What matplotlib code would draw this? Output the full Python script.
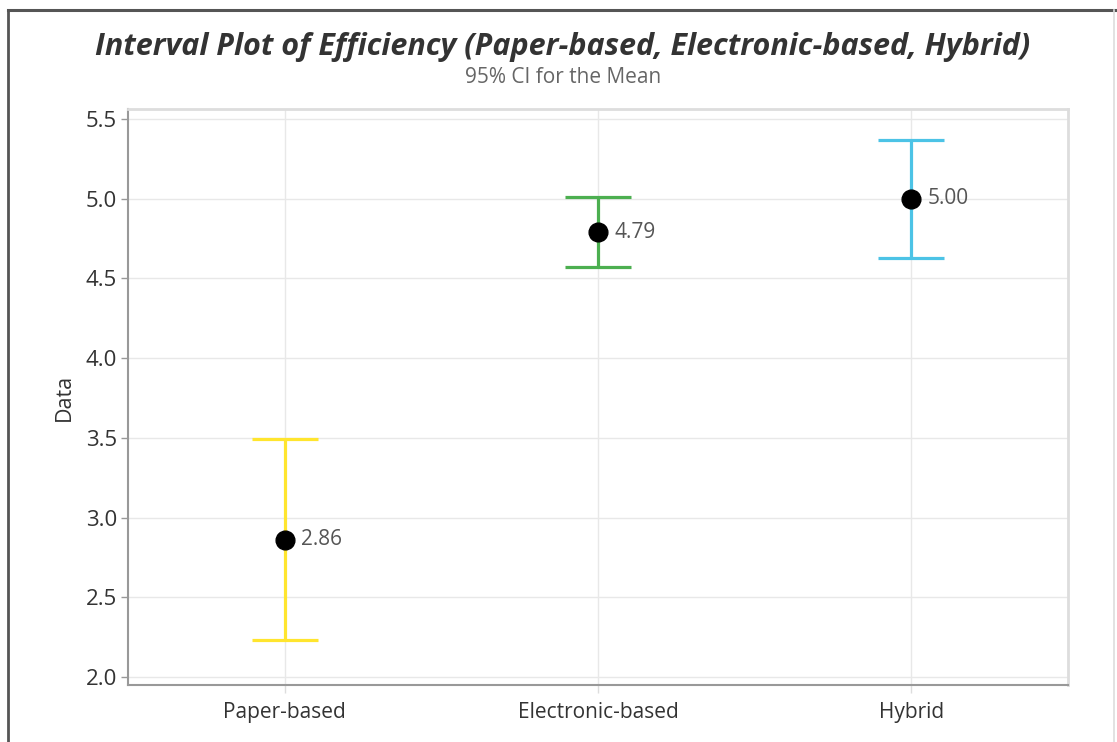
import matplotlib.pyplot as plt
from matplotlib.lines import Line2D

plt.rcParams['font.family'] = ['Open Sans', 'DejaVu Sans']

groups = ["Paper-based", "Electronic-based", "Hybrid"]
means = [2.86, 4.79, 5.00]
ci_low = [2.23, 4.57, 4.63]
ci_high = [3.49, 5.01, 5.37]
colors = ["#FFE52E", "#4CAF50", "#4CC3E6"]
y_ticks = [2.0, 2.5, 3.0, 3.5, 4.0, 4.5, 5.0, 5.5]

fig = plt.figure(figsize=(11.17, 7.42), dpi=100)
ax = fig.add_axes([0.1146, 0.0768, 0.8415, 0.7763])

# outer frame: dark top/left edges, faint right edge
fig.add_artist(Line2D([0.007, 0.998], [0.987, 0.987], transform=fig.transFigure,
                      color="#555555", linewidth=2.2))
fig.add_artist(Line2D([0.007, 0.007], [0.0, 0.987], transform=fig.transFigure,
                      color="#555555", linewidth=2.0))
fig.add_artist(Line2D([0.997, 0.997], [0.0, 0.987], transform=fig.transFigure,
                      color="#dddddd", linewidth=1.2))

for i, g in enumerate(groups):
    err = [[means[i] - ci_low[i]], [ci_high[i] - means[i]]]
    ax.errorbar(i, means[i], yerr=err, fmt="none", ecolor=colors[i],
                elinewidth=2.3, capsize=24, capthick=2.3, zorder=3)
    ax.plot(i, means[i], "o", color="black", markersize=13.5, zorder=4)
    ax.annotate(f"{means[i]:.2f}", (i, means[i]), xytext=(12, 0),
                textcoords="offset points", ha="left", va="center",
                fontsize=15, color="#555555")

ax.set_xlim(-0.5, 2.5)
ax.set_ylim(1.95, 5.563)
ax.set_xticks(range(len(groups)))
ax.set_xticklabels(groups)
ax.set_yticks(y_ticks)
ax.set_yticklabels([f"{t:.1f}" for t in y_ticks])
ax.tick_params(axis="y", labelsize=16, colors="#999999", labelcolor="#333333",
               length=5, width=1, pad=3)
ax.tick_params(axis="x", labelsize=15, colors="#dddddd", labelcolor="#333333",
               length=6, width=1, pad=6)
ax.grid(True, color="#e8e8e8", linewidth=1.0, zorder=0)
ax.set_axisbelow(True)

for side in ["left", "bottom"]:
    ax.spines[side].set_color("#999999")
    ax.spines[side].set_linewidth(1.5)
for side in ["top", "right"]:
    ax.spines[side].set_color("#dddddd")
    ax.spines[side].set_linewidth(2.0)

ax.set_ylabel("Data", fontsize=15.5, color="#333333", labelpad=8)

fig.text(0.504, 0.937, "Interval Plot of Efficiency (Paper-based, Electronic-based, Hybrid)",
         ha="center", va="center", fontsize=22, fontweight="bold", style="italic",
         color="#333333")
fig.text(0.504, 0.895, "95% CI for the Mean", ha="center", va="center",
         fontsize=15, color="#666666")

fig.savefig("out.png", dpi=100)
